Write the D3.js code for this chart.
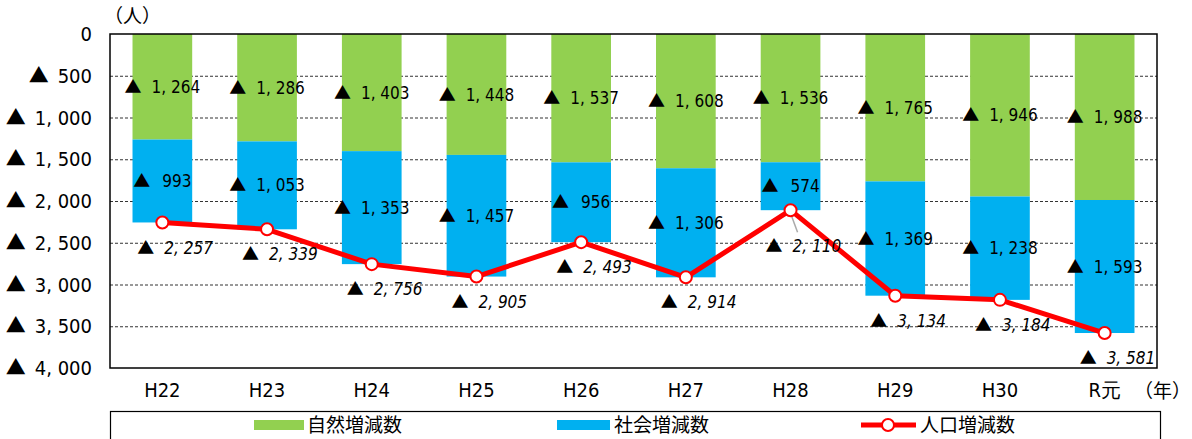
<!DOCTYPE html>
<html lang="ja">
<head>
<meta charset="UTF-8">
<title>人口増減数の推移</title>
<script src="https://d3js.org/d3.v7.min.js"></script>
<style>
  body { margin: 0; background: #fff; }
  svg { display: block; font-family: "DejaVu Sans Condensed", "DejaVu Sans", sans-serif; font-stretch: condensed; white-space: pre; }
  .grid line { stroke: #333; stroke-width: 1; stroke-dasharray: 3 2; }
  .lbl { font-size: 17px; fill: #000; }
  .tick-lbl { font-size: 20px; fill: #000; }
  .tri { font-family: "Noto Sans CJK JP", sans-serif; }
  .jp { font-family: "Noto Sans CJK JP", sans-serif; font-size: 19px; font-stretch: normal; }
</style>
</head>
<body>
<script>
// 年度
const years = ["H22", "H23", "H24", "H25", "H26", "H27", "H28", "H29", "H30", "R元"];
// 自然増減数 (減少数)
const natural = [1264, 1286, 1403, 1448, 1537, 1608, 1536, 1765, 1946, 1988];
// 社会増減数 (減少数)
const social = [993, 1053, 1353, 1457, 956, 1306, 574, 1369, 1238, 1593];
// 人口増減数 (減少数)
const total = [2257, 2339, 2756, 2905, 2493, 2914, 2110, 3134, 3184, 3581];
const yTicks = [0, 500, 1000, 1500, 2000, 2500, 3000, 3500, 4000];

const W = 1192, H = 439;
const m = { left: 110, right: 1157, top: 34, bottom: 368 };
const green = "#92D050", blue = "#00B0F0", red = "#FF0000";

const num = v => d3.format(",")(v).replace(",", ", ");

const svg = d3.select("body").append("svg").attr("width", W).attr("height", H);

const x = d3.scaleBand().domain(years).range([m.left, m.right]).paddingInner(0.43).paddingOuter(0.215);
const y = d3.scaleLinear().domain([0, 4000]).range([m.top, m.bottom]);

// gridlines
svg.append("g").attr("class", "grid")
  .selectAll("line").data(yTicks.filter(d => d > 0 && d < 4000)).enter()
  .append("line")
  .attr("x1", m.left).attr("x2", m.right)
  .attr("y1", d => y(d) + 0.5).attr("y2", d => y(d) + 0.5);

// stacked bars
const rows = years.map((yr, i) => ({ yr, nat: natural[i], soc: social[i], tot: total[i] }));
svg.append("g").selectAll("rect").data(rows).enter().append("rect")
  .attr("x", d => x(d.yr)).attr("width", x.bandwidth())
  .attr("y", y(0)).attr("height", d => y(d.nat) - y(0))
  .attr("fill", green);
svg.append("g").selectAll("rect").data(rows).enter().append("rect")
  .attr("x", d => x(d.yr)).attr("width", x.bandwidth())
  .attr("y", d => y(d.nat)).attr("height", d => y(d.nat + d.soc) - y(d.nat))
  .attr("fill", blue);

// plot frame
svg.append("rect")
  .attr("x", m.left).attr("y", m.top)
  .attr("width", m.right - m.left).attr("height", m.bottom - m.top)
  .attr("fill", "none").attr("stroke", "#000").attr("stroke-width", 1.5);

// label with a triangle prefix: "▲" + gap + number
function triLabel(sel, gap, italic) {
  sel.append("tspan").attr("class", "tri").text(d => d.v === 0 ? "" : "▲");
  sel.append("tspan").attr("dx", d => d.v === 0 ? 0 : (typeof gap === "function" ? gap(d) : gap))
    .attr("font-style", italic ? "italic" : null)
    .text(d => num(d.v));
}

// y axis labels
svg.append("g").selectAll("text").data(yTicks.map(v => ({ v }))).enter().append("text")
  .attr("class", "tick-lbl")
  .attr("x", 92).attr("y", d => y(d.v)).attr("dy", "0.36em")
  .attr("text-anchor", "end")
  .call(triLabel, 9, false);

svg.append("text").attr("class", "jp").attr("x", 104).attr("y", 23).text("（人）");

// x axis labels
svg.append("g").selectAll("text").data(years).enter().append("text")
  .attr("class", "tick-lbl").attr("font-size", 19)
  .attr("x", d => x(d) + x.bandwidth() / 2).attr("y", 397)
  .attr("text-anchor", "middle")
  .text(d => d);
svg.append("text").attr("class", "jp").attr("font-size", 18).attr("x", 1134).attr("y", 398).text("（年）");

// segment labels
const cx = d => x(d.yr) + x.bandwidth() / 2;
svg.append("g").selectAll("text").data(rows.map(d => ({ ...d, v: d.nat }))).enter().append("text")
  .attr("class", "lbl").attr("x", cx).attr("y", d => y(d.nat / 2)).attr("dy", "0.36em")
  .attr("text-anchor", "middle")
  .call(triLabel, 10, false);
svg.append("g").selectAll("text").data(rows.map(d => ({ ...d, v: d.soc }))).enter().append("text")
  .attr("class", "lbl").attr("x", cx).attr("y", d => y(d.nat + d.soc / 2)).attr("dy", "0.36em")
  .attr("text-anchor", "middle")
  .call(triLabel, d => (d.soc < 1000 ? 12 : 10), false);

// total line
const line = d3.line().x(cx).y(d => y(d.tot));
svg.append("path").datum(rows)
  .attr("d", line).attr("fill", "none")
  .attr("stroke", red).attr("stroke-width", 5).attr("stroke-linejoin", "round");

// leader line for H28
const h28 = rows[6];
svg.append("line")
  .attr("x1", cx(h28)).attr("y1", y(h28.tot) + 3)
  .attr("x2", cx(h28) + 7).attr("y2", y(h28.tot) + 22)
  .attr("stroke", "#aaa").attr("stroke-width", 1.5);

svg.append("g").selectAll("circle").data(rows).enter().append("circle")
  .attr("cx", cx).attr("cy", d => y(d.tot)).attr("r", 6)
  .attr("fill", "#fff").attr("stroke", red).attr("stroke-width", 2);

// total labels
svg.append("g").selectAll("text").data(rows.map(d => ({ ...d, v: d.tot }))).enter().append("text")
  .attr("class", "lbl")
  .attr("x", d => cx(d) - 25)
  .attr("y", d => y(d.tot) + (d.yr === "H28" ? 36 : 25)).attr("dy", "0.36em")
  .call(triLabel, 10, true);

// legend
svg.append("rect").attr("x", 110.5).attr("y", 411.5).attr("width", 1050).attr("height", 40)
  .attr("fill", "none").attr("stroke", "#000").attr("stroke-width", 1.2);
const lg = svg.append("g");
lg.append("rect").attr("x", 254).attr("y", 420).attr("width", 50).attr("height", 10).attr("fill", green);
lg.append("text").attr("class", "jp").attr("x", 307).attr("y", 432).text("自然増減数");
lg.append("rect").attr("x", 557).attr("y", 420).attr("width", 53).attr("height", 10).attr("fill", blue);
lg.append("text").attr("class", "jp").attr("x", 614).attr("y", 432).text("社会増減数");
lg.append("line").attr("x1", 861).attr("x2", 916).attr("y1", 425).attr("y2", 425)
  .attr("stroke", red).attr("stroke-width", 5);
lg.append("circle").attr("cx", 888).attr("cy", 425).attr("r", 6)
  .attr("fill", "#fff").attr("stroke", red).attr("stroke-width", 2);
lg.append("text").attr("class", "jp").attr("x", 920).attr("y", 432).text("人口増減数");
</script>
</body>
</html>
